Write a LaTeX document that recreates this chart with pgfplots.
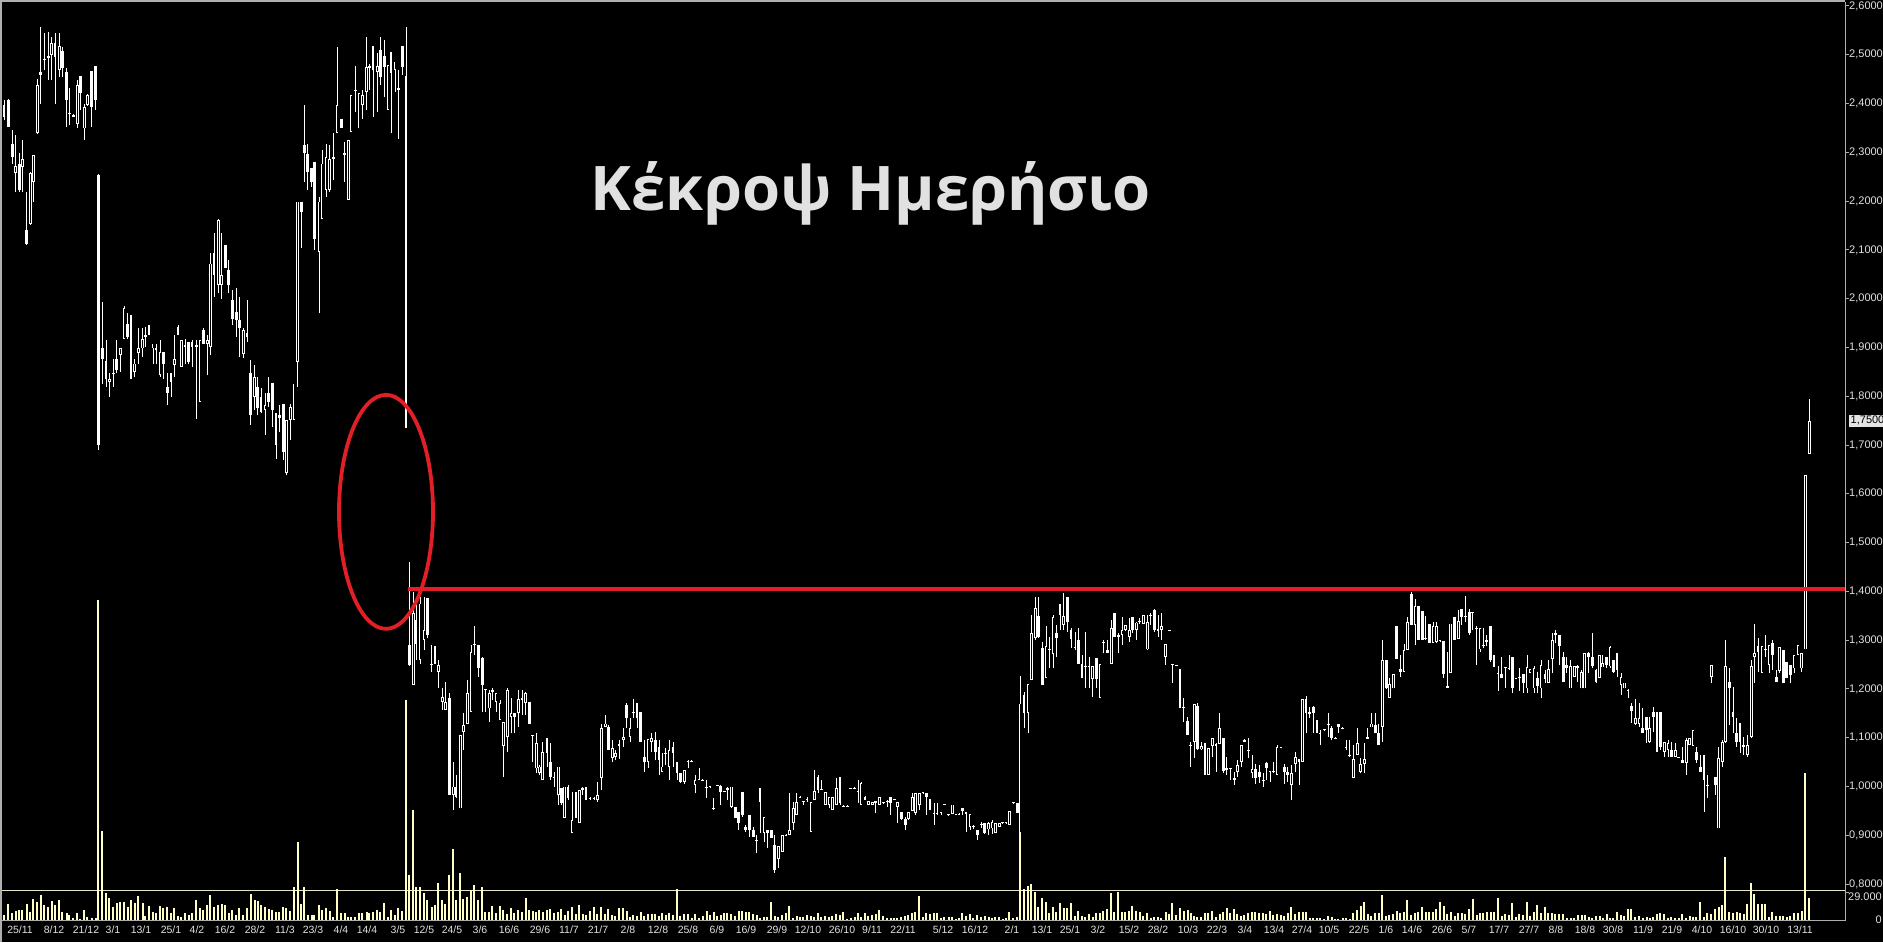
\documentclass[border=0pt]{standalone}
\usepackage{fontspec}
\setmainfont{Liberation Sans}
\newfontfamily\titlefont{Open Sans}
\usepackage{pgfplots}
\usepackage{pgfplotstable}
\pgfplotsset{compat=1.18}
\definecolor{volc}{RGB}{255,255,196}
\definecolor{annred}{RGB}{226,30,38}
\definecolor{lbl}{RGB}{225,225,225}
\definecolor{framec}{RGB}{175,175,175}
\definecolor{sepc}{RGB}{230,228,205}
\pgfplotstableread{
x o h l c v
4 2397 2407 2366 2373 5
8.3 2407 2410 2352 2352 16
12.3 2317 2346 2277 2291 7
15.7 2258 2335 2219 2272 9
19.3 2277 2298 2219 2222 10
22.3 2270 2325 2219 2287 10
26.7 2141 2219 2110 2112 16
30.3 2154 2260 2152 2257 8
33.3 2240 2294 2199 2294 21
37.3 2339 2451 2337 2438 18
40.7 2465 2557 2400 2458 25
44.3 2489 2545 2469 2492 15
48.3 2494 2546 2448 2497 13
51.7 2499 2537 2448 2524 19
55 2525 2545 2399 2496 15
59.3 2469 2545 2455 2518 20
62.3 2508 2516 2455 2472 8
66.7 2465 2472 2352 2408 7
69.3 2381 2431 2356 2378 5
73.3 2376 2378 2372 2373 2
77.3 2359 2448 2349 2438 7
80.3 2456 2456 2387 2422 1
84.3 2349 2400 2325 2393 10
87.3 2397 2420 2395 2417 3
91.7 2467 2467 2352 2393 2
95.7 2477 2477 2387 2408 2
98.3 2253 2256 1690 1700 320
102.3 1898 1994 1826 1877 89
106 1872 1915 1819 1836 27
109.3 1830 1847 1799 1836 22
113.3 1845 1877 1819 1848 13
116.7 1877 1915 1847 1853 17
120.3 1884 1898 1850 1898 18
124 1918 1985 1918 1980 18
127.7 1949 1970 1918 1922 13
131 1966 1966 1836 1836 20
134.7 1850 1877 1840 1867 17
138.3 1888 1939 1867 1898 24
142.7 1898 1939 1881 1918 17
145.3 1925 1942 1901 1922 4
149 1946 1946 1925 1925 14
153 1898 1908 1867 1908 8
156 1898 1908 1867 1895 7
160 1843 1915 1840 1891 14
163.3 1891 1891 1836 1867 12
167.3 1819 1847 1782 1806 13
171 1847 1847 1799 1830 7
174.3 1864 1925 1840 1877 12
178 1942 1946 1925 1925 4
181.3 1860 1915 1860 1915 3
185 1905 1918 1867 1901 7
188.7 1912 1912 1867 1871 5
192 1912 1915 1860 1901 7
196.3 1906 1915 1754 1901 20
200 1789 1915 1789 1915 12
203.3 1936 1939 1908 1908 10
207.3 1908 1925 1843 1915 15
210.3 1901 2093 1884 2072 25
214 2093 2134 2004 2048 13
218.3 2028 2164 2011 2161 15
221.7 2028 2134 2000 2048 16
225.3 2111 2111 2062 2062 15
228.7 2058 2079 2011 2028 7
232.3 1997 2017 1946 1959 10
236.3 1973 2021 1922 1956 5
239.3 1956 2004 1881 1939 12
243.3 1886 1939 1879 1936 5
247 1929 1997 1912 1922 12
250.7 1847 1874 1741 1761 26
254.7 1799 1864 1772 1840 20
257.7 1819 1840 1761 1775 19
261 1799 1816 1765 1768 15
265 1772 1806 1720 1782 13
268.7 1807 1840 1778 1789 11
272.3 1828 1828 1737 1772 10
276 1765 1765 1672 1700 8
279.3 1761 1782 1727 1756 8
283.3 1785 1785 1669 1686 13
286.3 1642 1751 1638 1751 12
290.3 1751 1785 1710 1778 9
294 1751 1826 1751 1826 33
297.7 1871 2199 1819 2199 78
301.3 2199 2199 2103 2178 16
304.3 2315 2397 2240 2298 33
307.7 2296 2317 2223 2260 5
311.7 2267 2267 2229 2240 5
314.3 2281 2281 2100 2123 5
319 2096 2209 1970 2199 15
322 2164 2305 2164 2277 10
326 2223 2317 2209 2291 12
329.7 2223 2315 2219 2287 9
333.3 2287 2339 2243 2290 3
337 2339 2516 2339 2397 31
341.3 2369 2369 2349 2349 7
344.7 2298 2322 2240 2295 7
348.3 2203 2326 2203 2326 3
351 2342 2417 2342 2417 3
355.3 2428 2477 2383 2425 3
359 2349 2421 2349 2421 7
362.3 2397 2428 2369 2417 7
366.7 2424 2537 2387 2475 8
369.3 2477 2482 2428 2472 7
373 2518 2518 2373 2469 8
377.3 2465 2503 2383 2477 10
380.3 2510 2537 2438 2455 8
384.3 2497 2531 2414 2475 17
388 2387 2479 2387 2479 3
391 2506 2506 2339 2462 10
395 2469 2486 2424 2486 5
398.3 2431 2469 2328 2428 12
402.3 2518 2518 2458 2475 9
406 2456 2557 1734 1734 220
409.3 1290 1461 1247 1249 45
413.3 1208 1399 1208 1355 110
416 1341 1375 1259 1293 33
420 1259 1389 1252 1375 33
424 1300 1389 1280 1321 27
427.3 1386 1386 1304 1311 20
431.7 1252 1290 1235 1250 13
435 1288 1288 1252 1252 15
438.3 1235 1259 1201 1249 37
442.3 1174 1201 1157 1184 20
445.3 1157 1215 1157 1174 16
449.3 1181 1192 982 982 45
453.3 982 1051 952 1000 71
456 1000 1024 976 979 20
460.3 955 1106 955 1106 47
463.3 1112 1150 1075 1126 21
467.3 1129 1218 1129 1191 23
471 1153 1290 1153 1276 30
474.3 1290 1328 1270 1293 35
478.3 1290 1290 1225 1242 20
482.3 1263 1266 1153 1208 33
485.3 1199 1199 1153 1197 8
489.3 1160 1198 1133 1192 8
492.3 1198 1201 1177 1194 14
496 1174 1191 1153 1191 7
500 1136 1177 1136 1171 14
503.3 1084 1132 1020 1132 10
507.3 1102 1201 1071 1198 6
511 1143 1181 1109 1150 12
514.3 1150 1150 1109 1143 7
518.3 1150 1198 1123 1179 10
522 1181 1198 1147 1178 8
525.7 1171 1194 1147 1191 22
529.3 1174 1174 1129 1129 10
532.7 1106 1106 1051 1104 9
536.3 1037 1109 1027 1090 8
539.3 1027 1044 1024 1041 10
542.7 1013 1092 1013 1071 8
547 1099 1099 1041 1068 10
550.3 1051 1089 1013 1020 11
554 1017 1030 1000 1020 7
558.3 982 1041 962 1041 8
561.3 996 996 962 966 11
564.7 935 1000 935 1000 5
568 1000 1003 972 976 9
572 904 989 904 931 13
576 989 989 935 935 6
579.3 925 993 925 993 15
582.7 996 1000 982 993 6
586 1000 1000 972 972 5
590 976 978 972 974 9
594 974 978 972 976 13
597.3 972 1010 969 982 6
601.3 1017 1129 993 1119 13
605.3 1123 1147 1123 1129 6
608.3 1123 1126 1075 1075 11
612.3 1058 1095 1051 1078 5
615.3 1061 1075 1054 1069 4
619 1088 1095 1056 1084 12
623.3 1095 1119 1082 1102 12
626.7 1167 1171 1119 1140 9
630 1102 1140 1092 1119 3
633.3 1150 1179 1140 1153 5
637 1171 1171 1119 1140 4
640.7 1153 1153 1092 1092 8
644.3 1061 1095 1030 1051 4
648 1051 1097 1037 1097 6
651.7 1092 1109 1071 1099 6
655.3 1095 1112 1054 1071 6
659 1082 1095 1024 1054 4
662 1030 1068 1030 1041 7
665.7 1069 1078 1044 1067 5
669 1041 1095 1013 1075 7
673 1082 1092 1041 1069 5
677 1051 1051 1013 1027 31
680.3 1027 1027 1008 1010 4
684.3 1010 1034 1006 1034 6
688 1050 1054 1037 1052 6
691.7 1051 1054 1050 1053 2
695 1003 1024 986 1013 6
699 1015 1037 1013 1013 2
702.7 1014 1015 1012 1012 4
706.7 1000 1013 976 998 9
710 999 1001 997 1001 5
713.7 955 976 952 953 8
717.3 1002 1004 1001 1004 4
720.7 1001 1003 962 989 5
724.3 990 991 988 988 7
727.3 993 1000 972 996 7
731.3 959 1000 955 1000 6
735.3 957 957 935 935 4
738.7 948 948 911 925 9
742.3 989 989 938 942 9
745.7 918 921 907 911 8
749.3 942 942 897 911 8
753.3 911 918 897 897 6
756.7 891 901 863 889 5
760 996 996 904 969 2
764 904 938 887 938 3
767.3 911 911 873 904 3
771.3 911 911 894 894 18
774.7 880 901 822 829 4
778.3 851 878 832 878 3
782.3 866 901 866 901 5
786 899 902 898 901 7
789.3 901 986 901 911 14
793.3 925 969 911 955 2
796.7 942 986 942 969 4
800 977 980 976 979 3
803.3 970 971 962 968 3
807 973 978 969 975 5
811 907 969 907 969 4
814.3 972 1034 972 991 3
818 1020 1024 986 993 7
821.3 994 1013 993 992 3
825.3 962 988 962 988 4
829 962 979 955 979 3
832.3 952 978 952 978 4
836.3 962 1017 962 996 6
840 1019 1019 962 966 5
843.3 959 962 958 961 8
847.3 961 962 958 959 1
850.7 995 997 994 997 2
854.7 997 998 994 995 3
858 991 1013 966 989 7
861 962 1009 962 1008 3
865 979 981 972 972 7
868.3 962 971 962 971 4
872.3 962 969 962 969 5
875.7 971 971 945 966 6
879.3 962 978 962 978 10
883.3 966 969 964 968 4
887.3 968 972 959 970 2
890.7 978 978 942 967 2
894.3 973 975 972 975 2
897.3 959 968 925 968 2
901.3 948 948 931 933 3
905.3 933 938 911 921 4
908.3 933 948 931 948 5
912.3 950 986 950 978 7
915.3 945 986 942 986 8
919.3 962 986 952 986 24
923 986 989 985 988 3
926.3 986 986 942 979 7
930 974 974 952 952 6
934 946 966 921 944 7
937 946 966 942 944 7
941 948 948 942 946 2
944.3 963 965 962 965 3
948.7 941 943 940 943 3
952.3 943 963 943 963 3
956 942 944 941 944 1
959 944 945 942 942 2
962.3 955 955 942 950 7
966 948 948 907 943 4
970 918 944 911 944 6
973.3 919 921 912 917 2
977.3 911 911 890 901 5
981.3 924 928 914 922 3
984.7 925 925 903 904 4
988.7 912 928 901 925 3
992 914 931 903 928 2
995.3 904 925 904 925 3
999.3 918 926 918 926 3
1002.7 925 927 924 927 1
1006 925 928 924 927 2
1009.3 921 950 921 950 8
1013.3 966 968 965 968 2
1017.3 966 966 946 946 3
1020 904 1226 904 1170 88
1024 1188 1194 1119 1150 31
1028 1150 1210 1109 1210 34
1031.3 1218 1352 1218 1314 36
1035.3 1304 1389 1300 1365 28
1038.3 1350 1389 1304 1306 13
1042.3 1283 1297 1208 1208 22
1046 1222 1328 1222 1288 18
1049.3 1280 1307 1242 1282 7
1053 1272 1352 1242 1347 13
1056.3 1315 1331 1266 1304 8
1060 1374 1375 1321 1352 17
1063.7 1331 1396 1321 1349 12
1067.3 1388 1388 1317 1338 12
1071 1321 1324 1283 1302 17
1075 1286 1317 1280 1284 4
1078.3 1300 1324 1252 1252 9
1082 1252 1270 1222 1222 4
1085.3 1248 1317 1201 1246 3
1089 1246 1266 1201 1248 6
1092.7 1220 1247 1184 1247 3
1096.3 1263 1263 1201 1220 7
1100 1181 1251 1181 1251 7
1103.3 1296 1300 1273 1294 9
1107.3 1280 1300 1273 1273 11
1111.3 1251 1341 1251 1324 27
1114.3 1355 1355 1307 1307 8
1118.3 1306 1314 1273 1311 28
1122 1311 1348 1290 1321 8
1125.3 1321 1331 1319 1331 8
1129.3 1307 1345 1297 1321 9
1132.3 1347 1348 1314 1321 14
1136.3 1321 1338 1300 1336 9
1139.7 1340 1345 1334 1338 8
1143.3 1334 1352 1334 1352 4
1147.3 1281 1352 1280 1338 7
1150.7 1350 1355 1331 1352 2
1154.3 1362 1363 1317 1321 3
1158 1322 1352 1307 1319 3
1161.3 1321 1355 1300 1328 2
1165.7 1266 1292 1249 1292 8
1169.3 1319 1321 1318 1321 6
1172.3 1252 1252 1212 1249 17
1176.3 1247 1249 1246 1249 5
1180 1240 1240 1160 1160 12
1183.7 1162 1181 1133 1160 9
1187.7 1134 1143 1106 1106 10
1190.7 1085 1092 1041 1083 7
1194.3 1092 1169 1058 1169 4
1197.3 1165 1171 1075 1076 3
1201.3 1076 1092 1075 1083 3
1205 1089 1089 1024 1024 7
1208.3 1024 1078 1024 1078 7
1212.3 1083 1099 1061 1099 9
1216 1087 1089 1030 1083 3
1219.7 1087 1150 1087 1119 6
1223.3 1099 1099 1027 1032 8
1226.7 1037 1061 1024 1034 12
1230.3 1037 1038 1013 1035 7
1234.3 1017 1030 1003 1013 11
1237.3 1030 1054 1020 1044 6
1241.3 1051 1085 1041 1085 4
1244.3 1092 1097 1092 1095 5
1248.3 1074 1099 1058 1072 7
1252 1027 1065 1017 1035 8
1255.3 1035 1047 1006 1017 8
1259.3 1030 1044 1008 1020 7
1263.3 1013 1027 1000 1011 7
1266.3 1049 1051 1013 1037 6
1270 1031 1031 1010 1029 9
1273.3 1029 1051 1027 1031 5
1277 1024 1086 1024 1080 6
1281 1079 1081 1078 1081 5
1284.3 1039 1047 1006 1030 4
1287.7 1030 1041 1010 1024 7
1291.3 1003 1044 972 1027 13
1295.3 1047 1071 1030 1060 6
1299 1056 1056 1003 1051 8
1302.7 1051 1179 1051 1179 8
1306 1179 1186 1109 1151 8
1309.7 1153 1164 1140 1149 2
1313.3 1164 1165 1109 1150 2
1317 1136 1136 1109 1109 2
1320 1110 1116 1085 1108 2
1324.3 1115 1117 1114 1117 1
1328.3 1129 1150 1102 1126 4
1331.7 1119 1124 1095 1099 3
1335.3 1100 1101 1097 1098 1
1338.3 1129 1129 1109 1121 1
1342.7 1118 1121 1117 1120 2
1346 1080 1095 1075 1078 2
1349.7 1065 1095 1061 1063 1
1353.3 1017 1085 1017 1056 7
1357.3 1065 1119 1065 1090 10
1360.7 1030 1058 1027 1046 14
1364.3 1047 1090 1027 1056 18
1367.7 1098 1119 1098 1101 6
1371.3 1121 1150 1121 1129 4
1375.3 1126 1150 1109 1110 7
1378.7 1109 1129 1085 1085 7
1382.3 1123 1300 1092 1259 25
1386.3 1259 1259 1199 1201 4
1389.3 1181 1222 1181 1210 5
1393.3 1201 1231 1201 1231 6
1396.7 1329 1329 1261 1261 9
1400.3 1241 1270 1225 1235 7
1404 1235 1293 1235 1280 8
1407.3 1280 1348 1280 1338 20
1411.3 1395 1399 1331 1331 5
1415 1331 1384 1290 1369 7
1418.3 1370 1370 1300 1300 8
1422.3 1360 1360 1300 1300 13
1425.7 1304 1350 1300 1302 8
1429.3 1334 1334 1295 1295 8
1433 1295 1338 1295 1329 8
1436.3 1296 1338 1295 1329 11
1440 1300 1301 1297 1298 18
1443.7 1299 1299 1222 1231 14
1447.3 1206 1276 1201 1201 6
1450.7 1232 1334 1232 1334 8
1454.7 1348 1348 1300 1300 4
1458.3 1302 1362 1302 1339 7
1461.7 1363 1363 1331 1347 7
1465.3 1349 1390 1338 1347 6
1469.3 1358 1363 1311 1315 11
1472.7 1358 1358 1321 1355 21
1476.7 1325 1329 1249 1323 5
1480 1281 1324 1276 1324 7
1483.3 1290 1324 1283 1287 7
1486.7 1297 1311 1288 1300 8
1490.7 1329 1329 1256 1259 8
1494 1270 1270 1244 1244 8
1498 1232 1246 1196 1230 22
1501.7 1230 1266 1222 1222 4
1505.3 1244 1244 1201 1242 6
1509 1242 1270 1239 1240 5
1512.3 1265 1265 1191 1201 17
1516 1221 1223 1220 1223 3
1519.3 1225 1242 1196 1222 6
1523.3 1231 1231 1191 1212 5
1527 1201 1270 1191 1244 18
1530 1232 1240 1232 1240 4
1534 1201 1246 1191 1242 8
1537.3 1222 1235 1191 1206 15
1541 1201 1259 1181 1249 7
1545 1231 1239 1212 1220 13
1548.3 1212 1259 1212 1240 7
1552.3 1261 1314 1232 1300 7
1555.3 1311 1321 1294 1314 6
1559.3 1311 1311 1249 1287 6
1563.3 1266 1276 1215 1215 6
1566.7 1249 1266 1232 1243 2
1570.7 1201 1259 1201 1246 2
1574.3 1225 1247 1225 1247 2
1577.7 1246 1249 1215 1243 5
1581.7 1201 1239 1201 1235 5
1584.7 1201 1274 1201 1274 5
1588.7 1274 1276 1232 1266 3
1592.3 1265 1314 1242 1246 2
1596 1239 1240 1213 1215 4
1599.7 1222 1269 1222 1269 4
1602.7 1244 1270 1244 1253 2
1606.7 1265 1265 1242 1249 6
1610 1246 1287 1242 1285 2
1613.3 1259 1259 1232 1235 2
1617 1274 1274 1225 1239 8
1621 1208 1232 1188 1224 5
1624.3 1201 1213 1201 1213 4
1628 1198 1199 1181 1196 11
1631.3 1165 1171 1131 1155 11
1635.3 1128 1179 1126 1140 3
1639 1128 1171 1123 1140 4
1642.7 1119 1160 1110 1110 2
1646.7 1143 1143 1089 1116 3
1649.7 1092 1143 1089 1119 2
1653.3 1153 1164 1112 1142 3
1657 1153 1153 1071 1071 6
1660.3 1153 1153 1075 1080 7
1664.3 1071 1092 1061 1092 6
1668 1075 1095 1061 1089 2
1671.3 1075 1092 1061 1061 3
1675.3 1061 1089 1061 1075 2
1678.7 1060 1060 1058 1058 2
1682.3 1055 1082 1048 1048 6
1686.3 1048 1099 1024 1095 2
1689.7 1085 1099 1085 1099 4
1693 1083 1116 1083 1116 3
1696.3 1071 1082 1048 1054 3
1700.3 1041 1065 1030 1030 18
1704 1065 1065 948 1013 3
1707.3 1004 1024 976 1002 7
1711.3 1225 1249 1212 1249 6
1715.3 1020 1020 983 1003 11
1718.7 914 1082 914 1058 13
1722.3 1051 1095 1041 1092 15
1725.3 1092 1300 1089 1246 63
1729.3 1215 1242 1126 1201 8
1733 1153 1205 1109 1142 7
1736.7 1109 1140 1082 1092 8
1740 1130 1130 1068 1092 7
1743.7 1085 1102 1065 1082 6
1747.3 1065 1106 1061 1085 16
1751.3 1102 1259 1099 1246 37
1754.3 1265 1334 1212 1274 26
1758 1287 1304 1235 1276 16
1762 1232 1287 1232 1287 16
1765.3 1281 1311 1266 1279 16
1769 1249 1290 1232 1290 3
1772.3 1294 1300 1239 1270 8
1776.3 1225 1239 1215 1215 4
1779.7 1237 1285 1232 1285 4
1783.3 1280 1280 1212 1212 4
1786.7 1256 1256 1222 1222 3
1790.3 1249 1249 1212 1229 4
1794 1242 1270 1232 1270 7
1798 1270 1290 1270 1290 7
1801.7 1242 1274 1235 1274 9
1805.3 1281 1639 1281 1639 147
1809.3 1682 1794 1682 1750 22
}\candles
\begin{document}
\begin{tikzpicture}[x=1bp,y=1bp]
\fill[black] (0,0) rectangle (1883,942);
% volume pane
\begin{axis}[at={(2bp,21bp)}, anchor=south west, width=1843bp, height=919bp, scale only axis,
  xmin=2, xmax=1845, ymin=-1, ymax=918, hide axis]
\draw[sepc, line width=1bp] (axis cs:2,29) -- (axis cs:1845,29);
\addplot[ycomb, volc, line width=1.8bp, mark=none] table[x=x,y=v] {\candles};
\end{axis}
% price pane
\begin{axis}[at={(2bp,21bp)}, anchor=south west, width=1843bp, height=919bp, scale only axis,
  xmin=2, xmax=1845, ymin=724.3, ymax=2608.2,
  axis x line*=bottom, axis y line*=right,
  axis line style={framec, line width=1bp, -},
  tick align=outside, major tick length=4bp,
  xtick={20,54,86,113,141,171,197,225,255,285,313,341,367,398,424,452,480,509,540,569,598,628,658,688,717,746,777,808,842,872,903,943,975,1012,1042,1070,1098,1129,1158,1188,1217,1245,1274,1302,1329,1359,1386,1412,1442,1469,1499,1529,1556,1585,1613,1643,1672,1702,1733,1766,1800},
  xticklabels={25/11,8/12,21/12,3/1,13/1,25/1,4/2,16/2,28/2,11/3,23/3,4/4,14/4,3/5,12/5,24/5,3/6,16/6,29/6,11/7,21/7,2/8,12/8,25/8,6/9,16/9,29/9,12/10,26/10,9/11,22/11,5/12,16/12,2/1,13/1,25/1,3/2,15/2,28/2,10/3,22/3,3/4,13/4,27/4,10/5,22/5,1/6,14/6,26/6,5/7,17/7,27/7,8/8,18/8,30/8,11/9,21/9,4/10,16/10,30/10,13/11},
  xtick style={draw=none},
  xticklabel style={text=lbl, font=\fontsize{10.5bp}{12bp}\selectfont, inner sep=0pt, anchor=north, yshift=-1bp},
  ytick={800,900,...,2600},
  yticklabels={{0,8000},{0,9000},{1,0000},{1,1000},{1,2000},{1,3000},{1,4000},{1,5000},{1,6000},{1,7000},{1,8000},{1,9000},{2,0000},{2,1000},{2,2000},{2,3000},{2,4000},{2,5000},{2,6000}},
  ytick style={framec, line width=1bp},
  yticklabel style={text=lbl, font=\fontsize{11bp}{13bp}\selectfont, inner sep=0pt, anchor=west},
]
\addplot[white, line width=1bp, quiver={u=0, v=\thisrow{h}-\thisrow{l}}] table[x=x, y=l] {\candles};
\addplot[white, line width=2.8bp, quiver={u=0, v=\thisrow{c}-\thisrow{o}}] table[x=x, y=o] {\candles};
\addplot[black, line width=0.9bp, quiver={u=0, v=\thisrow{c}-\thisrow{o}, every arrow/.append style={shorten <=0.9bp, shorten >=0.9bp}},
  y filter/.expression={\thisrow{c}-\thisrow{o}>5 ? y : nan}] table[x=x, y=o] {\candles};
\draw[annred, line width=4.2bp] (axis cs:408,1405) -- (axis cs:1845,1405);
\draw[annred, line width=3.8bp] (axis cs:386,1563) ellipse [x radius=47bp, y radius=117bp];
\end{axis}
% frame
\draw[framec, line width=2bp] (1,0) -- (1,942);
\draw[framec, line width=1.5bp] (0,941.2) -- (1845,941.2);
% volume scale labels
\draw[framec, line width=1bp] (1845,49) -- (1849,49);
\node[text=lbl, font=\fontsize{11bp}{13bp}\selectfont, anchor=east, inner sep=0pt] at (1882,45) {29.000};
\node[text=lbl, font=\fontsize{11bp}{13bp}\selectfont, anchor=east, inner sep=0pt] at (1882,22) {0};
% last price box
\node[fill={rgb,255:red,228;green,228;blue,228}, text=black, font=\fontsize{11bp}{13bp}\selectfont, anchor=west, inner sep=1.5bp] at (1849,521.4) {1,7500};
% title
\node[text=lbl, font=\titlefont\bfseries\fontsize{61.5bp}{66bp}\selectfont, anchor=base] at (871,731) {Κέκροψ Ημερήσιο};
\pgfresetboundingbox
\useasboundingbox (0,0) rectangle (1883,942);
\end{tikzpicture}
\end{document}
